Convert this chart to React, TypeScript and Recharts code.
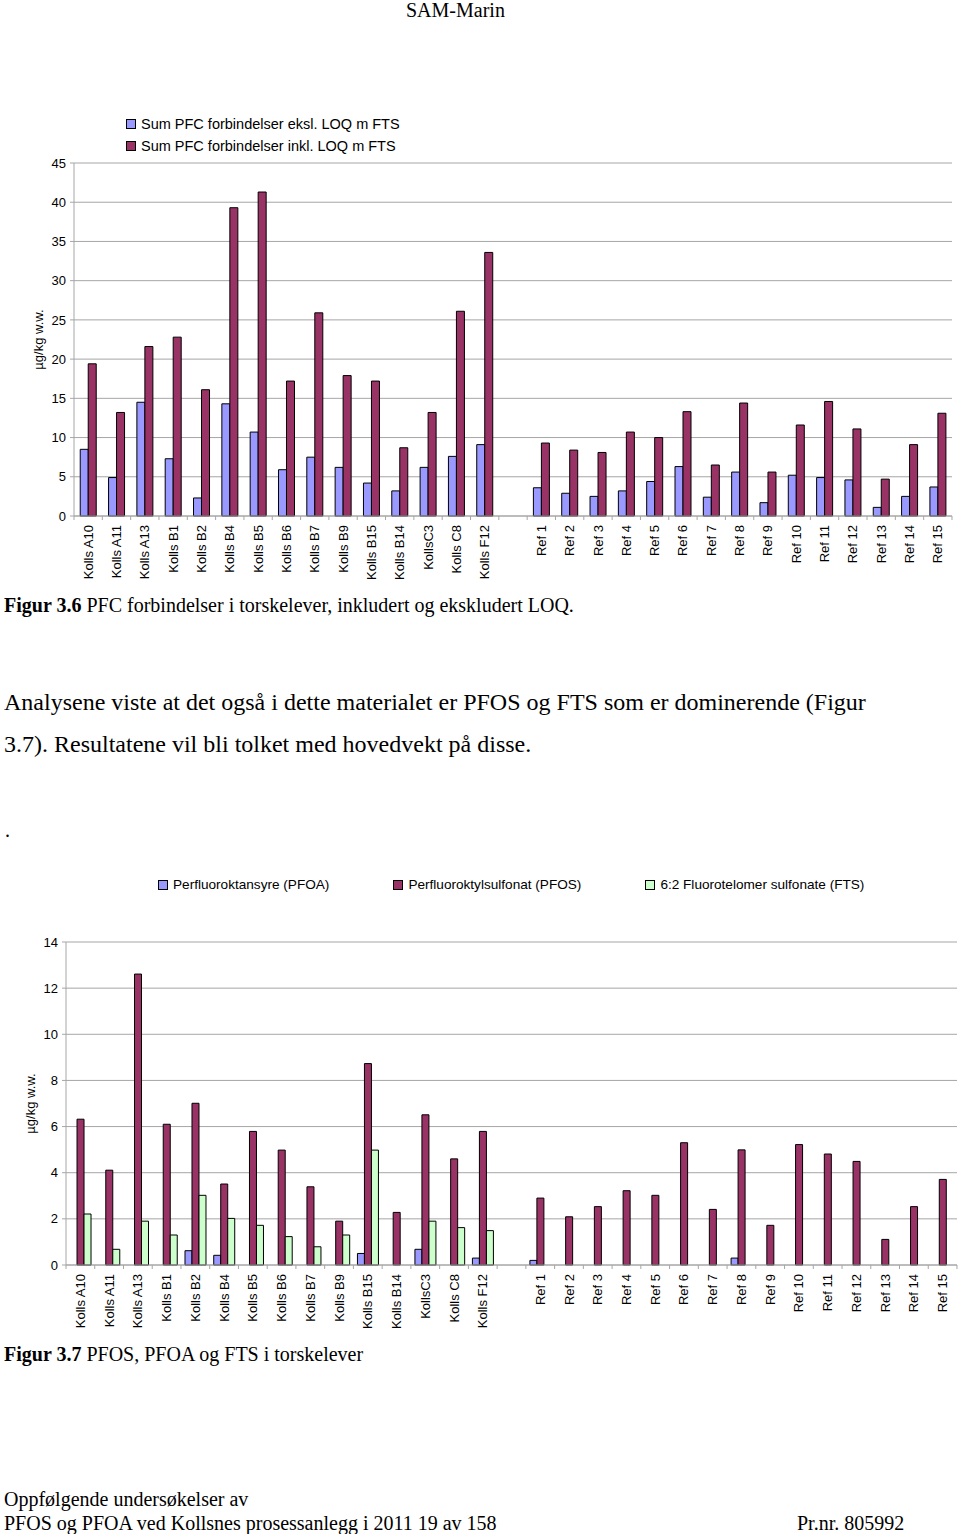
import React from "react";
import { BarChart, Bar, XAxis, YAxis, CartesianGrid, Legend } from "recharts";

// stations: 15 Kollsnes, an empty slot, then 15 reference stations
const kollsStations = [
  "Kolls A10", "Kolls A11", "Kolls A13", "Kolls B1", "Kolls B2", "Kolls B4", "Kolls B5", "Kolls B6",
  "Kolls B7", "Kolls B9", "Kolls B15", "Kolls B14", "KollsC3", "Kolls C8", "Kolls F12",
];
const refStations = [
  "Ref 1", "Ref 2", "Ref 3", "Ref 4", "Ref 5", "Ref 6", "Ref 7", "Ref 8",
  "Ref 9", "Ref 10", "Ref 11", "Ref 12", "Ref 13", "Ref 14", "Ref 15",
];
const stations = [...kollsStations, "", ...refStations];

// Figur 3.6 – sum PFC (µg/kg w.w.)
const sumExclLoq = [
  8.5, 4.9, 14.5, 7.3, 2.3, 14.3, 10.7, 5.9, 7.5, 6.2, 4.2, 3.2, 6.2, 7.6, 9.1,
  null,
  3.6, 2.9, 2.5, 3.2, 4.4, 6.3, 2.4, 5.6, 1.7, 5.2, 4.9, 4.6, 1.1, 2.5, 3.7,
];
const sumInclLoq = [
  19.4, 13.2, 21.6, 22.8, 16.1, 39.3, 41.3, 17.2, 25.9, 17.9, 17.2, 8.7, 13.2, 26.1, 33.6,
  null,
  9.3, 8.4, 8.1, 10.7, 10.0, 13.3, 6.5, 14.4, 5.6, 11.6, 14.6, 11.1, 4.7, 9.1, 13.1,
];

// Figur 3.7 – single compounds (µg/kg w.w.)
const pfoa = [
  0, 0, 0, 0, 0.62, 0.42, 0, 0, 0, 0, 0.5, 0, 0.68, 0, 0.3,
  null,
  0.2, 0, 0, 0, 0, 0, 0, 0.3, 0, 0, 0, 0, 0, 0, 0,
];
const pfos = [
  6.32, 4.11, 12.61, 6.1, 7.01, 3.51, 5.79, 4.98, 3.39, 1.9, 8.73, 2.28, 6.51, 4.6, 5.79,
  null,
  2.9, 2.09, 2.53, 3.22, 3.02, 5.3, 2.41, 4.99, 1.72, 5.22, 4.81, 4.49, 1.11, 2.53, 3.71,
];
const fts = [
  2.21, 0.68, 1.9, 1.3, 3.02, 2.02, 1.72, 1.23, 0.79, 1.3, 4.98, 0, 1.9, 1.62, 1.49,
  null,
  0, 0, 0, 0, 0, 0, 0, 0, 0, 0, 0, 0, 0, 0, 0,
];

const sumTicks = [0, 5, 10, 15, 20, 25, 30, 35, 40, 45];
const compTicks = [0, 2, 4, 6, 8, 10, 12, 14];

const sumData = stations.map((name, i) => ({ name, eksl: sumExclLoq[i], inkl: sumInclLoq[i] }));
const compData = stations.map((name, i) => ({ name, pfoa: pfoa[i], pfos: pfos[i], fts: fts[i] }));

// legend order follows the series order
const seriesOrder = ["eksl", "inkl", "pfoa", "pfos", "fts"];

const BLUE = "#9999ff";
const PLUM = "#993366";
const MINT = "#ccffcc";
const GRID = "#a6a6a6";
const SANS = '"Liberation Sans", Arial, sans-serif';
const SERIF = '"Liberation Serif", "Times New Roman", serif';

function StationTick(props: any) {
  const { x, y, payload, index, half } = props;
  return (
    <g>
      {index === 0 && <line x1={x - half} x2={x - half} y1={y - 9} y2={y - 5} stroke={GRID} />}
      <line x1={x + half} x2={x + half} y1={y - 9} y2={y - 5} stroke={GRID} />
      <text
        x={x}
        y={y}
        transform={`rotate(-90 ${x} ${y})`}
        textAnchor="end"
        dy="0.35em"
        fontSize={13}
        fontFamily={SANS}
        fill="#000"
      >
        {payload.value}
      </text>
    </g>
  );
}

function UnitLabel(props: any) {
  const { viewBox } = props;
  const cx = viewBox.x + 14;
  const cy = viewBox.y + viewBox.height / 2;
  return (
    <text
      x={cx}
      y={cy}
      transform={`rotate(-90 ${cx} ${cy})`}
      textAnchor="middle"
      dy="0.35em"
      fontSize={13}
      fontFamily={SANS}
      fill="#000"
    >
      µg/kg w.w.
    </text>
  );
}

function Swatch({ color }: { color: string }) {
  return (
    <span
      style={{
        display: "inline-block",
        width: 8,
        height: 8,
        background: color,
        border: "1px solid #000",
        marginRight: 5,
      }}
    />
  );
}

const ordered = (payload: any[]) =>
  [...(payload || [])].sort(
    (a, b) => seriesOrder.indexOf(a.dataKey) - seriesOrder.indexOf(b.dataKey)
  );

function StackedLegend(props: any) {
  return (
    <div style={{ fontFamily: SANS, fontSize: 14.5, lineHeight: "22px", color: "#000" }}>
      {ordered(props.payload).map((p: any) => (
        <div key={p.value} style={{ display: "flex", alignItems: "center" }}>
          <Swatch color={p.color} />
          {p.value}
        </div>
      ))}
    </div>
  );
}

function RowLegend(props: any) {
  return (
    <div style={{ display: "flex", gap: 64, fontFamily: SANS, fontSize: 13.6, lineHeight: "18px", color: "#000" }}>
      {ordered(props.payload).map((p: any) => (
        <div key={p.value} style={{ display: "flex", alignItems: "center", whiteSpace: "nowrap" }}>
          <Swatch color={p.color} />
          {p.value}
        </div>
      ))}
    </div>
  );
}

const text = (top: number, left: number, size: number, extra: any = {}) => ({
  position: "absolute" as const,
  top,
  left,
  fontFamily: SERIF,
  fontSize: size,
  lineHeight: "20px",
  whiteSpace: "nowrap" as const,
  color: "#000",
  ...extra,
});

export default function App() {
  return (
    <div style={{ position: "absolute", top: 0, left: 0, width: 960, height: 1534, background: "#fff", overflow: "hidden" }}>
      <div style={text(0, 406, 20)}>SAM-Marin</div>

      <div style={{ position: "absolute", top: 100, left: 0 }}>
        <BarChart
          width={960}
          height={490}
          data={sumData}
          margin={{ top: 63, right: 8, left: 24, bottom: 4 }}
          barCategoryGap="22%"
          barGap={0}
        >
          <CartesianGrid vertical={false} stroke={GRID} />
          <XAxis
            dataKey="name"
            interval={0}
            height={70}
            tickSize={5}
            tickMargin={4}
            tickLine={false}
            axisLine={{ stroke: GRID }}
            tick={<StationTick half={14.16} />}
          />
          <YAxis
            width={50}
            domain={[0, 45]}
            ticks={sumTicks}
            interval={0}
            tickSize={4}
            tickMargin={4}
            axisLine={{ stroke: GRID }}
            tickLine={{ stroke: GRID }}
            tick={{ fontSize: 13, fill: "#000", fontFamily: SANS }}
            label={{ position: "insideLeft", content: <UnitLabel /> }}
          />
          <Legend
            layout="horizontal"
            verticalAlign="middle"
            align="center"
            content={<StackedLegend />}
            wrapperStyle={{ top: 13, left: 126, width: "auto" }}
          />
          <Bar dataKey="eksl" name="Sum PFC forbindelser eksl. LOQ m FTS" fill={BLUE} stroke="#000" strokeWidth={1} isAnimationActive={false} />
          <Bar dataKey="inkl" name="Sum PFC forbindelser inkl. LOQ m FTS" fill={PLUM} stroke="#000" strokeWidth={1} isAnimationActive={false} />
        </BarChart>
      </div>

      <div style={text(595, 4, 20)}>
        <b>Figur 3.6</b> PFC forbindelser i torskelever, inkludert og ekskludert LOQ.
      </div>

      <div style={text(681, 4, 24, { lineHeight: "42px" })}>
        Analysene viste at det også i dette materialet er PFOS og FTS som er dominerende (Figur
        <br />
        3.7). Resultatene vil bli tolket med hovedvekt på disse.
      </div>
      <div style={text(820, 5, 20)}>.</div>

      <div style={{ position: "absolute", top: 860, left: 0 }}>
        <BarChart
          width={960}
          height={480}
          data={compData}
          margin={{ top: 82, right: 3, left: 16, bottom: 5 }}
          barCategoryGap="14%"
          barGap={0}
        >
          <CartesianGrid vertical={false} stroke={GRID} />
          <XAxis
            dataKey="name"
            interval={0}
            height={70}
            tickSize={5}
            tickMargin={4}
            tickLine={false}
            axisLine={{ stroke: GRID }}
            tick={<StationTick half={14.37} />}
          />
          <YAxis
            width={50}
            domain={[0, 14]}
            ticks={compTicks}
            interval={0}
            tickSize={4}
            tickMargin={4}
            axisLine={{ stroke: GRID }}
            tickLine={{ stroke: GRID }}
            tick={{ fontSize: 13, fill: "#000", fontFamily: SANS }}
            label={{ position: "insideLeft", content: <UnitLabel /> }}
          />
          <Legend
            layout="horizontal"
            verticalAlign="middle"
            align="center"
            content={<RowLegend />}
            wrapperStyle={{ top: 16, left: 158, width: "auto" }}
          />
          <Bar dataKey="pfoa" name="Perfluoroktansyre (PFOA)" fill={BLUE} stroke="#000" strokeWidth={1} isAnimationActive={false} />
          <Bar dataKey="pfos" name="Perfluoroktylsulfonat (PFOS)" fill={PLUM} stroke="#000" strokeWidth={1} isAnimationActive={false} />
          <Bar dataKey="fts" name="6:2 Fluorotelomer sulfonate (FTS)" fill={MINT} stroke="#000" strokeWidth={1} isAnimationActive={false} />
        </BarChart>
      </div>

      <div style={text(1344, 4, 20)}>
        <b>Figur 3.7</b> PFOS, PFOA og FTS i torskelever
      </div>

      <div style={text(1487, 4, 20, { lineHeight: "24px" })}>
        Oppfølgende undersøkelser av
        <br />
        PFOS og PFOA ved Kollsnes prosessanlegg i 2011 19 av 158
      </div>
      <div style={text(1511, 797, 20, { lineHeight: "24px" })}>Pr.nr. 805992</div>
    </div>
  );
}
